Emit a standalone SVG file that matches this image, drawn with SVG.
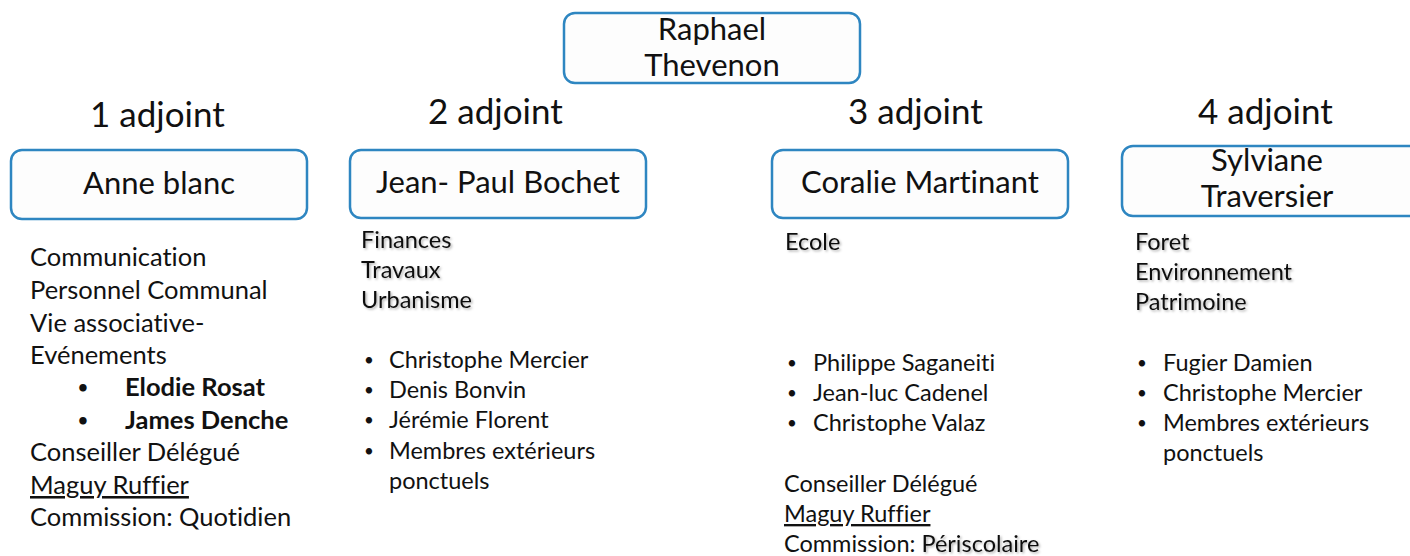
<svg xmlns="http://www.w3.org/2000/svg" width="1410" height="556" viewBox="0 0 1410 556">
<defs>
<filter id="sh" x="-10%" y="-20%" width="130%" height="160%">
<feDropShadow dx="1.5" dy="1.5" stdDeviation="0.8" flood-color="#000" flood-opacity="0.3"/>
</filter>
</defs>
<style>
text{font-family:Lato,"Open Sans","Liberation Sans",sans-serif;fill:#111;font-variant-ligatures:none;font-feature-settings:"liga" 0}
.box{fill:#fdfdfd;stroke:#2E86C1;stroke-width:2.5}
.name{font-size:31px;text-anchor:middle}
.hdr{font-size:35px}
.t{font-size:25.5px}
.s{font-size:23.5px}
.bu{font-size:17px}
.sh{filter:url(#sh)}
.b{font-weight:bold}
</style>
<rect width="1410" height="556" fill="#fff"/>
<g id="connectors"></g>
<g id="raphael">
<rect class="box" x="564" y="13" width="296" height="70" rx="11"/>
<text class="name" x="712" y="40">Raphael</text>
<text class="name" x="712" y="76">Thevenon</text>
</g>
<g id="hdr1"><text class="hdr" x="90" y="127">1 adjoint</text></g>
<g id="hdr2"><text class="hdr" x="428" y="124">2 adjoint</text></g>
<g id="hdr3"><text class="hdr" x="848" y="124">3 adjoint</text></g>
<g id="hdr4"><text class="hdr" x="1198" y="124">4 adjoint</text></g>
<g id="anne">
<rect class="box" x="11" y="150" width="296" height="69" rx="11"/>
<text class="name" x="159" y="194">Anne blanc</text>
</g>
<g id="jeanpaul">
<rect class="box" x="350" y="150" width="296" height="68" rx="11"/>
<text class="name" x="498" y="193">Jean- Paul Bochet</text>
</g>
<g id="coralie">
<rect class="box" x="772" y="150" width="296" height="68" rx="11"/>
<text class="name" x="920" y="193">Coralie Martinant</text>
</g>
<g id="sylviane">
<rect class="box" x="1122" y="146" width="300" height="70" rx="11"/>
<text class="name" x="1267" y="171">Sylviane</text>
<text class="name" x="1267" y="207">Traversier</text>
</g>
<g id="col1">
<text class="t" x="30" y="266">Communication</text>
<text class="t" x="30" y="299">Personnel Communal</text>
<text class="t" x="30" y="332">Vie associative-</text>
<text class="t" x="30" y="364">Evénements</text>
<text class="bu b" x="78" y="393">•</text>
<text class="t b" x="125" y="396">Elodie Rosat</text>
<text class="bu b" x="78" y="426">•</text>
<text class="t b" x="125" y="429">James Denche</text>
<text class="t" x="30" y="461">Conseiller Délégué</text>
<text class="t" x="30" y="494" text-decoration="underline">Maguy Ruffier</text>
<text class="t" x="30" y="526">Commission: Quotidien</text>
</g>
<g id="col2">
<text class="s sh" x="361" y="248">Finances</text>
<text class="s sh" x="361" y="278">Travaux</text>
<text class="s sh" x="361" y="308">Urbanisme</text>
<text class="bu" x="364" y="366">•</text><text class="s" x="389" y="368">Christophe Mercier</text>
<text class="bu" x="364" y="396">•</text><text class="s" x="389" y="398">Denis Bonvin</text>
<text class="bu" x="364" y="426">•</text><text class="s" x="389" y="428">Jérémie Florent</text>
<text class="bu" x="364" y="457">•</text><text class="s" x="389" y="459">Membres extérieurs</text>
<text class="s" x="389" y="489">ponctuels</text>
</g>
<g id="col3">
<text class="s sh" x="785" y="250">Ecole</text>
<text class="bu" x="787" y="369">•</text><text class="s" x="813" y="371">Philippe Saganeiti</text>
<text class="bu" x="787" y="399">•</text><text class="s" x="813" y="401">Jean-luc Cadenel</text>
<text class="bu" x="787" y="429">•</text><text class="s" x="813" y="431">Christophe Valaz</text>
<text class="s" x="784" y="492">Conseiller Délégué</text>
<text class="s" x="784" y="522" text-decoration="underline">Maguy Ruffier</text>
<text class="s" x="784" y="552">Commission: <tspan class="sh">Périscolaire</tspan></text>
</g>
<g id="col4">
<text class="s sh" x="1135" y="250">Foret</text>
<text class="s sh" x="1135" y="280">Environnement</text>
<text class="s sh" x="1135" y="310">Patrimoine</text>
<text class="bu" x="1137" y="369">•</text><text class="s" x="1163" y="371">Fugier Damien</text>
<text class="bu" x="1137" y="399">•</text><text class="s" x="1163" y="401">Christophe Mercier</text>
<text class="bu" x="1137" y="429">•</text><text class="s" x="1163" y="431">Membres extérieurs</text>
<text class="s" x="1163" y="461">ponctuels</text>
</g>
</svg>
